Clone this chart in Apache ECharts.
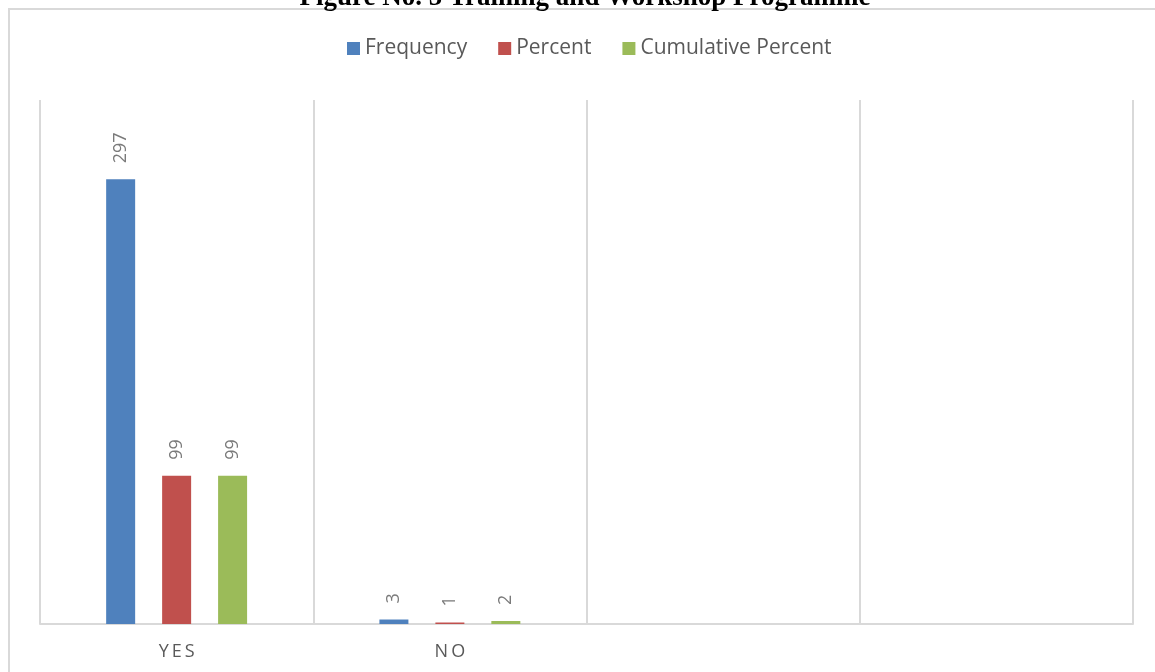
<!DOCTYPE html>
<html>
<head>
<meta charset="utf-8">
<script src="https://cdn.jsdelivr.net/npm/echarts@6/dist/echarts.min.js"></script>
<style>
  html, body { margin: 0; padding: 0; background: #ffffff; }
  #chart { width: 1155px; height: 672px; }
</style>
</head>
<body>
<div id="chart"></div>
<script>
// Survey responses: training and workshop programme
const categories = ['YES', 'NO', ' ', '  '];
const frequency = [297, 3, null, null];
const percent = [99, 1, null, null];
const cumulativePercent = [99, 2, null, null];
const seriesNames = ['Frequency', 'Percent', 'Cumulative Percent'];
const titleText = 'Figure No. 5 Training and Workshop Programme';

const colors = ['#4f81bd', '#c0504d', '#9bbb59'];
const labelFont = '"Open Sans", "Noto Sans", sans-serif';

function spaced(s) {
  return s.split('').join('\u2009');
}

function makeSeries(name, data, color) {
  return {
    name: name,
    type: 'bar',
    data: data,
    barWidth: 29,
    barGap: '93%',
    itemStyle: { color: color },
    label: {
      show: true,
      position: 'top',
      rotate: 90,
      align: 'left',
      verticalAlign: 'middle',
      distance: 16,
      color: '#7a7a7a',
      fontSize: 18,
      fontFamily: labelFont
    }
  };
}

const chart = echarts.init(document.getElementById('chart'));
chart.setOption({
  animation: false,
  color: colors,
  graphic: [
    {
      type: 'rect',
      z: 0,
      shape: { x: 9, y: 9, width: 1300, height: 800 },
      style: { fill: 'none', stroke: '#d9d9d9', lineWidth: 2 }
    },
    {
      type: 'text',
      z: 100,
      style: {
        x: 585,
        y: -2,
        text: titleText,
        align: 'center',
        verticalAlign: 'middle',
        fill: '#000000',
        font: 'bold 27px "Liberation Serif", "Times New Roman", serif'
      }
    }
  ],
  legend: {
    data: seriesNames,
    left: 342,
    top: 33,
    itemWidth: 13,
    itemHeight: 13,
    itemGap: 31,
    icon: 'rect',
    textStyle: { color: '#595959', fontSize: 21, fontFamily: labelFont }
  },
  grid: {
    left: 40,
    right: 22,
    top: 100,
    bottom: 48,
    outerBoundsMode: 'none'
  },
  xAxis: {
    type: 'category',
    data: categories,
    axisTick: { show: false },
    axisLine: { lineStyle: { color: '#d9d9d9', width: 2 } },
    splitLine: { show: true, lineStyle: { color: '#d9d9d9', width: 2 } },
    axisLabel: {
      margin: 19,
      color: '#595959',
      fontSize: 18,
      fontFamily: labelFont,
      formatter: spaced
    }
  },
  yAxis: {
    type: 'value',
    min: 0,
    max: 350,
    show: false,
    splitLine: { show: false }
  },
  series: [
    makeSeries(seriesNames[0], frequency, colors[0]),
    makeSeries(seriesNames[1], percent, colors[1]),
    makeSeries(seriesNames[2], cumulativePercent, colors[2])
  ]
});
</script>
</body>
</html>
